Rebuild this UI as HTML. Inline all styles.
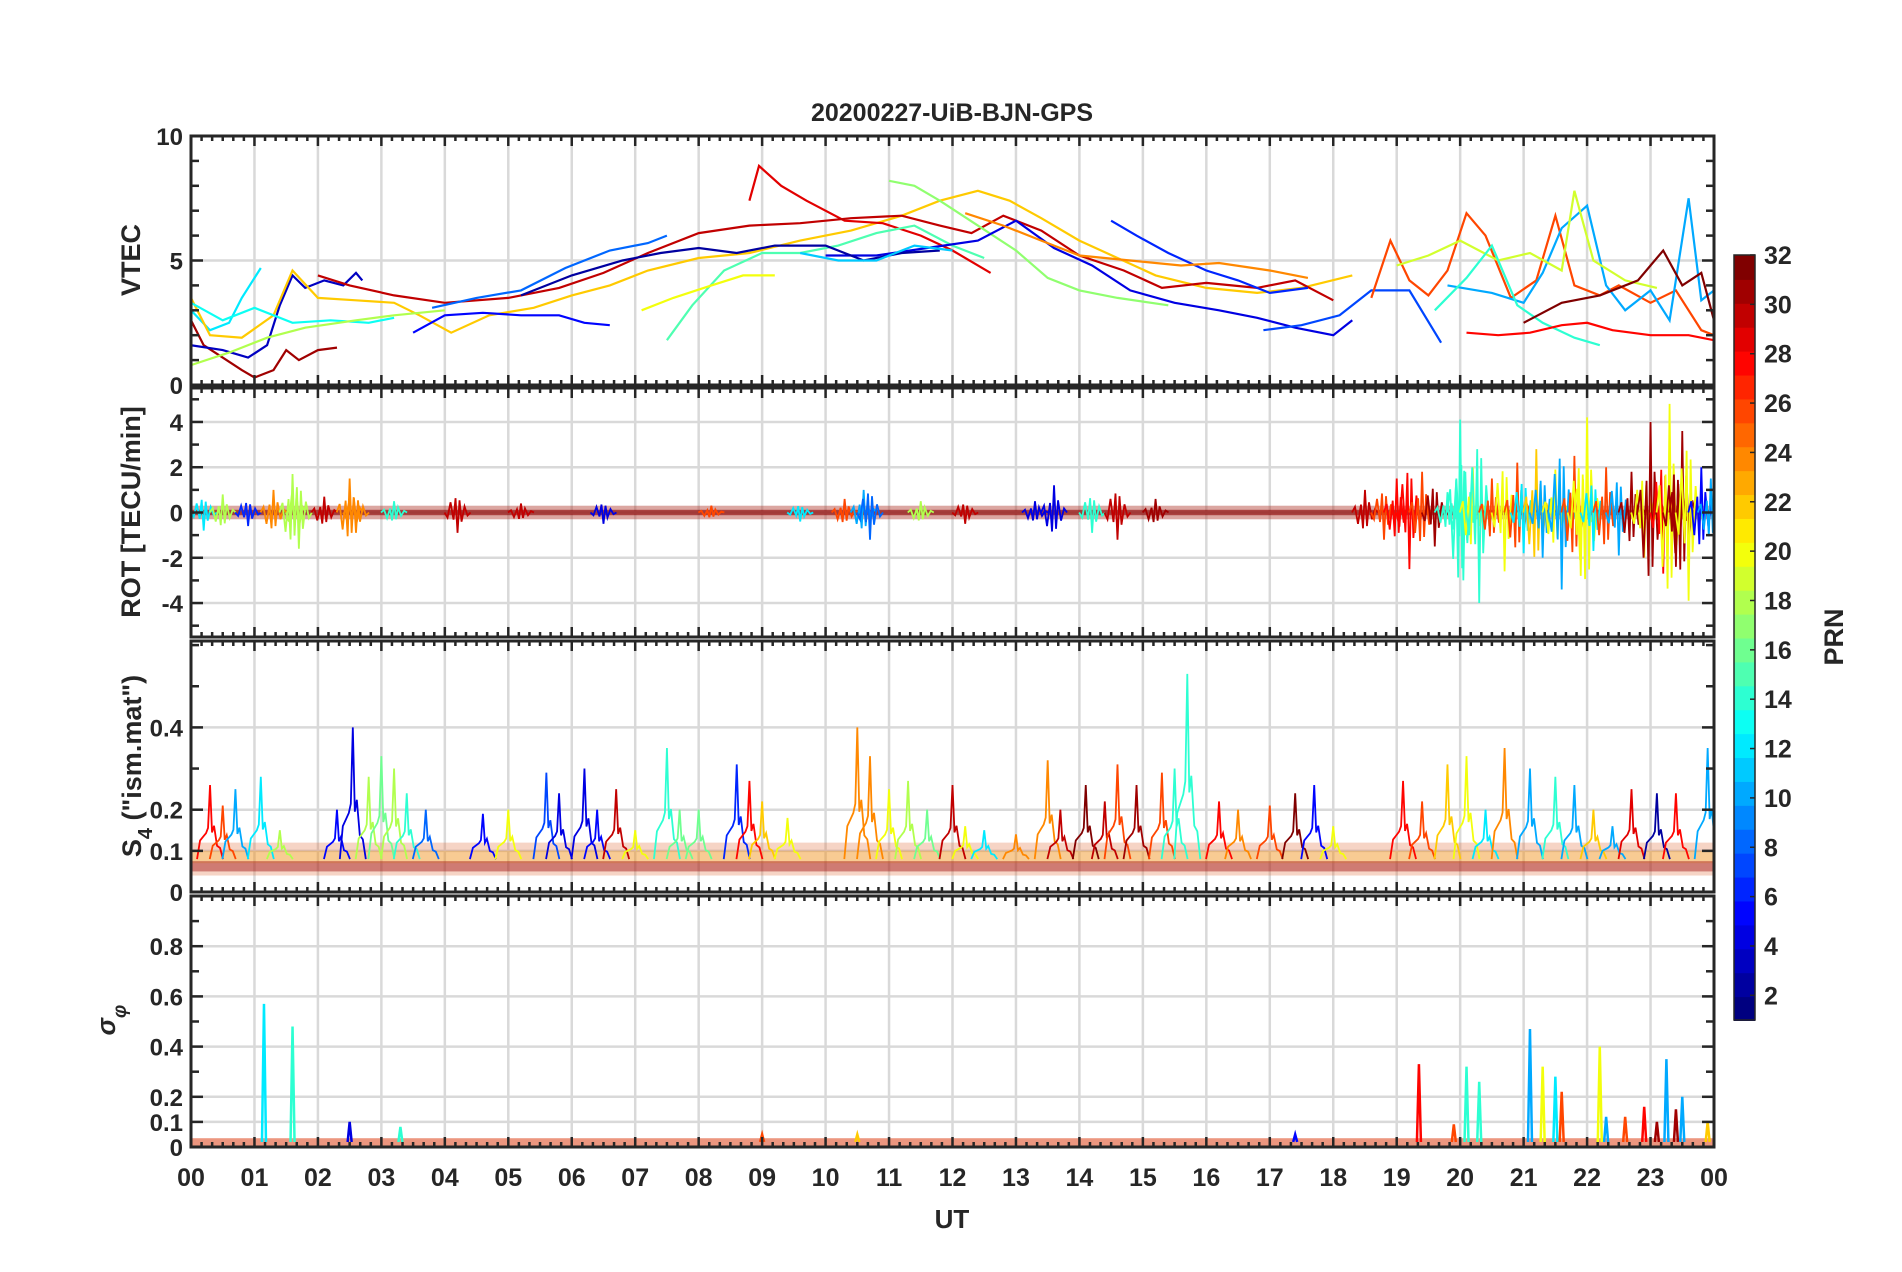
<!DOCTYPE html>
<html><head><meta charset="utf-8"><style>
body{margin:0;background:#fff}
svg{display:block}
text{font-family:"Liberation Sans",sans-serif;font-weight:bold;fill:#262626}
</style></head><body>
<svg id="c" width="1902" height="1272" viewBox="0 0 1902 1272" xmlns="http://www.w3.org/2000/svg">
<rect width="1902" height="1272" fill="#fff"/>
<text x="952" y="121" font-size="25" text-anchor="middle">20200227-UiB-BJN-GPS</text>
<g id="plots"></g>
<text x="952" y="1228" font-size="26" text-anchor="middle">UT</text>
<text transform="translate(140,260) rotate(-90)" font-size="27" text-anchor="middle">VTEC</text>
<text transform="translate(140,512) rotate(-90)" font-size="27" text-anchor="middle">ROT [TECU/min]</text>
<text transform="translate(141,766) rotate(-90)" font-size="27" text-anchor="middle">S<tspan baseline-shift="sub" font-size="20">4</tspan> ("ism.mat")</text>
<text transform="translate(115,1020) rotate(-90)" font-size="26" text-anchor="middle" font-style="italic" font-family="Liberation Serif">σ<tspan baseline-shift="sub" font-size="19">φ</tspan></text>
<g id="cbar"></g>
<text transform="translate(1843,637) rotate(-90)" font-size="27" text-anchor="middle">PRN</text>
</svg>
<script>
// ---- data ----
const hourTicks = ["00","01","02","03","04","05","06","07","08","09","10","11","12","13","14","15","16","17","18","19","20","21","22","23","00"];
const vtecTicks = [0,5,10];
const rotTicks = [-4,-2,0,2,4];
const s4Ticks = [0,0.1,0.2,0.4];
const sigTicks = [0,0.1,0.2,0.4,0.6,0.8];
const cbarTicks = [2,4,6,8,10,12,14,16,18,20,22,24,26,28,30,32];
const vtecPrn = [31,3,12,22,29,30,17,15,20,5,8,6,4,7,26,10,19,14,28,32,13,2,24,11,18];
const vtecTracks = [
 [[0,2.6],[0.2,1.6],[0.5,1.1],[0.8,0.6],[1,0.3],[1.3,0.6],[1.5,1.4],[1.7,1.0],[2,1.4],[2.3,1.5]],
 [[0,1.6],[0.5,1.4],[0.9,1.1],[1.2,1.6],[1.4,3.2],[1.6,4.4],[1.8,3.9],[2.1,4.2],[2.4,4.0],[2.6,4.5],[2.7,4.2]],
 [[0,3.0],[0.3,2.2],[0.6,2.5],[0.8,3.5],[1.1,4.7]],
 [[0,3.5],[0.3,2.0],[0.8,1.9],[1.3,2.8],[1.6,4.6],[2,3.5],[2.6,3.4],[3.2,3.3],[3.6,2.8],[4.1,2.1],[4.7,2.8],[5.4,3.1],[6,3.6],[6.6,4.0],[7.2,4.6],[8,5.1],[8.8,5.3],[9.6,5.8],[10.4,6.2],[11.2,6.8],[11.8,7.4],[12.4,7.8],[12.9,7.4],[13.4,6.7],[14,5.8],[14.6,5.1],[15.2,4.4],[16,3.9],[16.8,3.7],[17.5,3.9],[18.3,4.4]],
 [[8.8,7.4],[8.95,8.8],[9.3,8.0],[9.7,7.4],[10.3,6.6],[10.9,6.5],[11.5,6.0],[12,5.4],[12.6,4.5]],
 [[2,4.4],[2.5,4.0],[3.2,3.6],[4,3.3],[5,3.5],[5.8,3.9],[6.5,4.5],[7.2,5.3],[8,6.1],[8.8,6.4],[9.6,6.5],[10.4,6.7],[11.2,6.8],[11.8,6.4],[12.3,6.1],[12.8,6.8],[13.4,6.2],[14,5.2],[14.7,4.6],[15.3,3.9],[16,4.1],[16.8,3.9],[17.4,4.2],[18,3.4]],
 [[11,8.2],[11.4,8.0],[11.8,7.4],[12.4,6.4],[13,5.4],[13.5,4.3],[14,3.8],[14.6,3.5],[15.4,3.2]],
 [[7.5,1.8],[7.9,3.2],[8.4,4.6],[9,5.3],[9.6,5.3],[10.2,5.6],[10.8,6.1],[11.4,6.4],[12,5.6],[12.5,5.1]],
 [[7.1,3.0],[7.6,3.5],[8.2,4.0],[8.7,4.4],[9.2,4.4]],
 [[3.5,2.1],[4,2.8],[4.6,2.9],[5.2,2.8],[5.8,2.8],[6.2,2.5],[6.6,2.4]],
 [[3.8,3.1],[4.5,3.5],[5.2,3.8],[5.9,4.7],[6.6,5.4],[7.2,5.7],[7.5,6.0]],
 [[14.5,6.6],[14.9,6.0],[15.4,5.3],[16,4.6],[16.5,4.2],[17,3.7],[17.6,3.9]],
 [[10,5.2],[10.8,5.2],[11.6,5.5],[12.4,5.8],[13,6.6],[13.6,5.5],[14.2,4.8],[14.8,3.8],[15.5,3.3],[16.2,3.0],[16.8,2.7],[17.4,2.3],[18,2.0],[18.3,2.6]],
 [[16.9,2.2],[17.5,2.4],[18.1,2.8],[18.6,3.8],[19.2,3.8],[19.7,1.7]],
 [[18.6,3.5],[18.9,5.8],[19.2,4.2],[19.5,3.6],[19.8,4.6],[20.1,6.9],[20.4,6.0],[20.8,3.5],[21.2,4.2],[21.5,6.8],[21.8,4.0],[22.2,3.6],[22.5,4.0],[23,3.3],[23.4,3.8],[23.8,2.2],[24,2.0]],
 [[19.8,4.0],[20.5,3.7],[21,3.3],[21.3,4.5],[21.6,6.3],[22,7.2],[22.3,4.0],[22.6,3.0],[23,3.8],[23.3,2.6],[23.6,7.5],[23.8,3.4],[24,3.8]],
 [[19,4.8],[19.5,5.2],[20,5.8],[20.6,5.0],[21.1,5.3],[21.6,4.6],[21.8,7.8],[22.1,5.0],[22.6,4.2],[23.1,3.9]],
 [[19.6,3.0],[20.1,4.3],[20.5,5.6],[20.9,3.2],[21.3,2.5],[21.8,1.9],[22.2,1.6]],
 [[20.1,2.1],[20.6,2.0],[21.1,2.1],[21.6,2.4],[22,2.5],[22.4,2.2],[23,2.0],[23.6,2.0],[24,1.8]],
 [[21,2.5],[21.6,3.3],[22.2,3.6],[22.8,4.2],[23.2,5.4],[23.5,4.0],[23.8,4.5],[24,2.6]],
 [[0,3.3],[0.5,2.6],[1,3.1],[1.6,2.5],[2.2,2.6],[2.8,2.5],[3.2,2.7]],
 [[5.2,3.6],[6,4.4],[6.8,5.0],[7.4,5.3],[8,5.5],[8.6,5.3],[9.2,5.6],[10,5.6],[10.6,5.0],[11.2,5.3],[11.8,5.4]],
 [[12.2,6.9],[12.8,6.4],[13.4,5.8],[14,5.2],[14.8,5.0],[15.6,4.8],[16.2,4.9],[17,4.6],[17.6,4.3]],
 [[9.6,5.3],[10.2,5.0],[10.8,5.0],[11.4,5.6],[12,5.4]],
 [[0,0.8],[0.6,1.3],[1.2,1.9],[1.8,2.3],[2.6,2.6],[3.2,2.8],[4,3.0]]
];
const rotT = [0.2,0.5,0.9,1.3,1.6,1.7,2.1,2.5,2.6,3.2,4.2,5.2,6.5,8.2,9.6,10.3,10.6,10.7,11.5,12.2,13.3,13.6,14.2,14.6,15.2,18.5,18.8,19.0,19.2,19.4,19.6,19.8,20.0,20.05,20.2,20.3,20.5,20.7,20.9,21.0,21.2,21.3,21.5,21.6,21.8,21.9,22.0,22.1,22.3,22.5,22.7,22.9,23.0,23.2,23.3,23.4,23.5,23.6,23.8,23.95];
const rotV = [-0.8,0.8,-0.6,1.0,1.7,-1.6,0.7,1.5,-0.9,0.5,-0.9,0.4,-0.5,0.3,-0.4,0.6,1.0,-1.2,0.5,-0.5,0.5,1.2,-0.9,-1.2,0.6,1.0,-1.2,1.5,-2.5,1.8,-1.5,0.9,4.1,-3.0,2.0,-4.0,1.5,-2.6,2.2,-1.8,2.8,-2.0,1.9,-3.4,2.5,-2.8,4.2,-1.7,2.0,-1.9,1.8,-2.0,4.0,-2.7,4.8,-2.4,3.6,-3.9,2.0,1.5];
const rotP = [12,18,6,24,18,18,30,24,24,14,30,30,4,26,12,26,10,8,18,30,4,4,14,30,31,30,26,28,28,26,31,14,14,14,20,14,26,20,26,12,22,10,20,10,26,20,20,12,26,10,31,20,31,28,20,31,31,20,5,10];
const s4T = [0.3,0.5,0.7,1.1,1.4,2.3,2.55,2.8,3.0,3.2,3.4,3.7,4.6,5.0,5.6,5.8,6.2,6.4,6.7,7.0,7.5,7.7,8.0,8.6,8.8,9.0,9.4,10.5,10.7,11.0,11.3,11.6,12.0,12.2,12.5,13.0,13.5,13.7,14.1,14.4,14.6,14.9,15.3,15.5,15.7,16.2,16.5,17.0,17.4,17.7,18.0,19.1,19.4,19.8,20.1,20.4,20.7,21.1,21.5,21.8,22.1,22.4,22.7,23.1,23.4,23.9];
const s4V = [0.26,0.21,0.25,0.28,0.15,0.2,0.40,0.28,0.33,0.30,0.24,0.2,0.19,0.2,0.29,0.24,0.3,0.2,0.25,0.15,0.35,0.2,0.2,0.31,0.27,0.22,0.18,0.40,0.33,0.25,0.27,0.20,0.26,0.16,0.15,0.14,0.32,0.2,0.26,0.22,0.31,0.26,0.29,0.30,0.53,0.22,0.2,0.21,0.24,0.26,0.16,0.27,0.22,0.31,0.33,0.2,0.35,0.30,0.28,0.26,0.2,0.16,0.25,0.24,0.24,0.35];
const s4P = [28,26,10,12,18,5,4,18,16,18,14,8,5,20,7,4,4,5,30,20,14,16,16,6,28,22,20,24,24,20,18,16,30,20,12,24,24,30,32,30,26,31,26,14,14,28,24,26,32,5,20,28,26,22,20,12,24,10,14,10,22,10,29,2,28,10];
const sigT = [1.15,1.6,2.5,3.3,9.0,10.5,17.4,19.35,19.9,20.1,20.3,21.1,21.3,21.5,21.6,22.2,22.3,22.6,22.9,23.1,23.25,23.4,23.5,23.9];
const sigV = [0.57,0.48,0.10,0.08,0.05,0.05,0.05,0.33,0.09,0.32,0.26,0.47,0.32,0.28,0.22,0.40,0.12,0.12,0.16,0.10,0.35,0.15,0.20,0.10];
const sigP = [12,14,4,14,26,22,5,28,26,14,14,10,20,12,26,20,10,26,28,31,10,31,10,22];

// ---- helpers ----
const svg = document.getElementById('c');
const NS = 'http://www.w3.org/2000/svg';
const X0 = 191, X1 = 1714;
const panels = [
 {name:'vtec', top:136, bot:385, min:0, max:10, ticks:vtecTicks, minorStep:1},
 {name:'rot', top:388, bot:637, min:-5.5, max:5.5, ticks:rotTicks, minorStep:1},
 {name:'s4', top:641, bot:892, min:0, max:0.61, ticks:s4Ticks, minorStep:0.1},
 {name:'sigma', top:896, bot:1147, min:0, max:1.0, ticks:sigTicks, minorStep:0.1}
];
// burst shape (style, not data): px offset and relative height
const burstDx = [-10,-7,-4,-2,0,2,4,7,10];
const burstK  = [0.25,0.5,0.35,0.7,1,0.6,0.45,0.3,0.15];
function xs(t){return X0 + t/24*(X1-X0);}
function ysFor(p){return v => p.bot - (v-p.min)/(p.max-p.min)*(p.bot-p.top);}
function jet(prn){
  const v = (prn-1)/31;
  const r = Math.max(0,Math.min(1,1.5-Math.abs(4*v-3)));
  const g = Math.max(0,Math.min(1,1.5-Math.abs(4*v-2)));
  const b = Math.max(0,Math.min(1,1.5-Math.abs(4*v-1)));
  return `rgb(${Math.round(r*255)},${Math.round(g*255)},${Math.round(b*255)})`;
}
function mk(tag, attrs, parent){
  const e = document.createElementNS(NS, tag);
  for (const k in attrs) e.setAttribute(k, attrs[k]);
  (parent||svg).appendChild(e); return e;
}
const plots = document.getElementById('plots');

panels.forEach((p, pi) => {
  const y = ysFor(p);
  const g = mk('g', {}, plots);
  
  
  for (let h=1; h<24; h++){
    const l = mk('line', {x1:xs(h), x2:xs(h), y1:p.top, y2:p.bot, stroke:'#d9d9d9', 'stroke-width':2.5}, g);
    
    
  }
  p.ticks.forEach(v => {
    if (v===p.min) return;
    const l = mk('line', {x1:X0, x2:X1, y1:y(v), y2:y(v), stroke:'#d9d9d9', 'stroke-width':2.5}, g);
    
    
  });
  const clip = mk('clipPath', {id:'clip'+pi}, g);
  mk('rect', {x:X0, y:p.top, width:X1-X0, height:p.bot-p.top}, clip);
  const d = mk('g', {'clip-path':`url(#clip${pi})`}, g);
  
  

  if (p.name==='vtec'){
    vtecTracks.forEach((tr, i) => {
      const pts = tr.map(q => xs(q[0]).toFixed(1)+','+y(q[1]).toFixed(1)).join(' ');
      const pl = mk('polyline', {points:pts, fill:'none', stroke:jet(vtecPrn[i]), 'stroke-width':2.2}, d);
      
      
    });
  } else if (p.name==='rot'){
    const b1 = mk('rect', {x:X0, y:y(0.3), width:X1-X0, height:y(-0.3)-y(0.3), fill:'#b03a2e', opacity:0.45}, d);
    
    
    const b2 = mk('rect', {x:X0, y:y(0.12), width:X1-X0, height:y(-0.12)-y(0.12), fill:'#8b0000', opacity:0.6}, d);
    
    
    rotT.forEach((t, i) => {
      const pts = [`${xs(t)-13},${y(0)}`].concat(burstDx.map((dx,k) => `${xs(t)+dx},${y(rotV[i]*burstK[k]*(k%2?-1:1))}`)).concat([`${xs(t)+13},${y(0)}`]).join(' ');
      const pl = mk('polyline', {points:pts, fill:'none', stroke:jet(rotP[i]), 'stroke-width':1.8}, d);
      
      
    });
  } else if (p.name==='s4'){
    const band = mk('rect', {x:X0, y:y(0.12), width:X1-X0, height:y(0.04)-y(0.12), fill:'#e07040', opacity:0.3}, d);
    
    
    const b3 = mk('rect', {x:X0, y:y(0.1), width:X1-X0, height:y(0.07)-y(0.1), fill:'#ffb000', opacity:0.25}, d);
    
    
    const l2 = mk('rect', {x:X0, y:y(0.075), width:X1-X0, height:y(0.05)-y(0.075), fill:'#a01010', opacity:0.45}, d);
    
    
    s4T.forEach((t, i) => {
      const pts = [`${xs(t)-13},${y(0.08)}`].concat(burstDx.map((dx,k) => `${xs(t)+dx},${y(k%2 ? 0.08+(s4V[i]-0.08)*burstK[k]*0.6 : 0.08+(s4V[i]-0.08)*burstK[k])}`)).concat([`${xs(t)+13},${y(0.08)}`]).join(' ');
      const pl = mk('polyline', {points:pts, fill:'none', stroke:jet(s4P[i]), 'stroke-width':1.8}, d);
      
      
    });
  } else {
    const band = mk('rect', {x:X0, y:y(0.035), width:X1-X0, height:y(0.0)-y(0.035), fill:'#e0502a', opacity:0.6}, d);
    
    
    sigT.forEach((t, i) => {
      const pts = `${xs(t)-2},${y(0.02)} ${xs(t)},${y(sigV[i])} ${xs(t)+2},${y(0.02)}`;
      const pl = mk('polyline', {points:pts, fill:'none', stroke:jet(sigP[i]), 'stroke-width':2.5}, d);
      
      
    });
  }
  for (let m=0; m<=144; m++){
    const len = (m%6===0) ? 10 : 5;
    const x = xs(m/6);
    mk('line', {x1:x, x2:x, y1:p.top, y2:p.top+len, stroke:'#262626', 'stroke-width':2.5}, g);
    mk('line', {x1:x, x2:x, y1:p.bot, y2:p.bot-len, stroke:'#262626', 'stroke-width':2.5}, g);
  }
  const start = Math.ceil(p.min/p.minorStep);
  for (let k=start; k*p.minorStep<=p.max+1e-9; k++){
    const v = k*p.minorStep, yy = y(v);
    const major = p.ticks.some(t => Math.abs(t-v)<1e-9);
    const len = major ? 12 : 8;
    mk('line', {x1:X0, x2:X0+len, y1:yy, y2:yy, stroke:'#262626', 'stroke-width':2.5}, g);
    mk('line', {x1:X1, x2:X1-len, y1:yy, y2:yy, stroke:'#262626', 'stroke-width':2.5}, g);
  }
  p.ticks.forEach(v => {
    const t = mk('text', {x:X0-8, y:y(v)+9, 'font-size':24, 'text-anchor':'end'}, g);
    t.textContent = String(v);
    
    
  });
  const fr = mk('rect', {x:X0, y:p.top, width:X1-X0, height:p.bot-p.top, fill:'none', stroke:'#262626', 'stroke-width':3}, g);
  
  
});
hourTicks.forEach((lab, h) => {
  const t = mk('text', {x:xs(h), y:1186, 'font-size':25, 'text-anchor':'middle'}, plots);
  t.textContent = lab;
  
  
});
const cb = document.getElementById('cbar');
const CT = 255, CB = 1020, CX = 1734, CW = 21;
const cy = v => CB - (v-1)/31*(CB-CT);
for (let k=1; k<=32; k++){
  const r = mk('rect', {x:CX, y:CB - k*(CB-CT)/32, width:CW, height:(CB-CT)/32+1, fill:jet(k)}, cb);
  
  
}
mk('rect', {x:CX, y:CT, width:CW, height:CB-CT, fill:'none', stroke:'#262626', 'stroke-width':1.5}, cb);
cbarTicks.forEach(v => {
  mk('line', {x1:CX+CW-5, x2:CX+CW, y1:cy(v), y2:cy(v), stroke:'#262626', 'stroke-width':1.5}, cb);
  const t = mk('text', {x:CX+CW+9, y:cy(v)+9, 'font-size':25}, cb);
  t.textContent = String(v);
  
  
});
</script>
</body></html>
